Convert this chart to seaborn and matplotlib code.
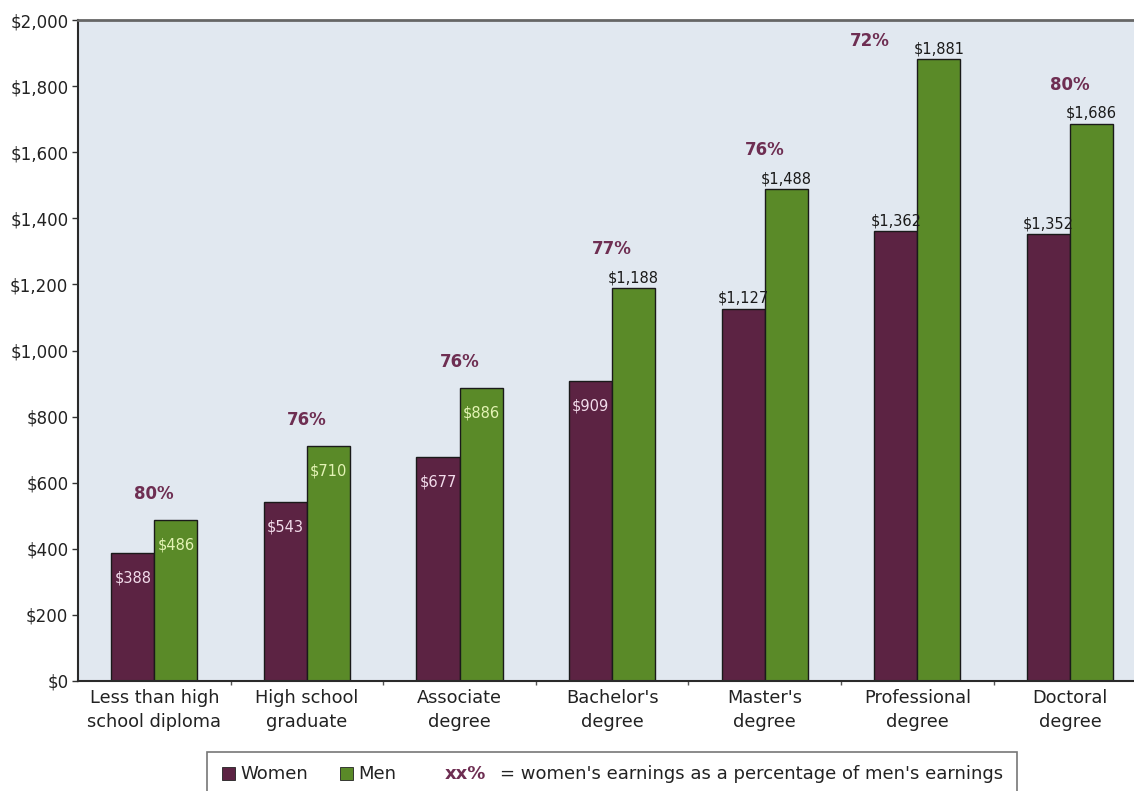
import matplotlib
matplotlib.use("Agg")
import matplotlib.pyplot as plt
import matplotlib.patches as mpatches
from matplotlib.ticker import FuncFormatter, FixedLocator
import seaborn as sns
import pandas as pd

categories = ["Less than high\nschool diploma", "High school\ngraduate", "Associate\ndegree",
              "Bachelor's\ndegree", "Master's\ndegree", "Professional\ndegree", "Doctoral\ndegree"]
women = [388, 543, 677, 909, 1127, 1362, 1352]
men = [486, 710, 886, 1188, 1488, 1881, 1686]
pct = ["80%", "76%", "76%", "77%", "76%", "72%", "80%"]
y_ticks = [0, 200, 400, 600, 800, 1000, 1200, 1400, 1600, 1800, 2000]

WOMEN_C = "#5C2343"
MEN_C = "#5A8A28"
BG = "#E1E8F0"
PCT_C = "#6E2E52"

df = pd.DataFrame({
    "edu": categories * 2,
    "earn": women + men,
    "sex": ["Women"] * len(women) + ["Men"] * len(men),
})

sns.set_theme(style="white")
plt.rcParams['font.family'] = ['DejaVu Sans']

fig = plt.figure(figsize=(11.34, 7.91), dpi=100)
ax = fig.add_axes([78 / 1134, 110 / 791, 1 - 78 / 1134, 661 / 791])
ax.set_facecolor(BG)

sns.barplot(data=df, x="edu", y="earn", hue="sex", order=categories,
            hue_order=["Women", "Men"], palette=[WOMEN_C, MEN_C],
            width=0.564, saturation=1, edgecolor="#1a1a1a", linewidth=1.0,
            legend=False, ax=ax)

ax.set_ylim(0, 2000)
ax.set_xlim(-0.5, 6.42)
ax.set_xlabel("")
ax.set_ylabel("")
ax.yaxis.set_major_locator(FixedLocator(y_ticks))
ax.yaxis.set_major_formatter(FuncFormatter(lambda v, p: f"${int(v):,}"))
ax.tick_params(axis="y", which="major", left=True, length=4, width=1, color="#333333",
               labelsize=12, labelcolor="#222222", pad=3)
ax.tick_params(axis="x", which="major", bottom=False, labelsize=12.8, labelcolor="#222222", pad=0)
for lbl in ax.get_xticklabels():
    lbl.set_linespacing(1.4)
ax.xaxis.set_minor_locator(FixedLocator([i + 0.5 for i in range(len(categories) - 1)]))
ax.tick_params(axis="x", which="minor", bottom=True, length=3, width=1, color="#555555")

for s in ["left", "bottom"]:
    ax.spines[s].set_color("#2a2a2a")
    ax.spines[s].set_linewidth(1.5)
ax.spines["top"].set_color("#666666")
ax.spines["top"].set_linewidth(2.0)
ax.spines["right"].set_visible(False)

inside_colors = [("#F2DCEB"), ("#E4F3B5")]
for ci, cont in enumerate(ax.containers[:2]):
    for p in cont.patches:
        h = p.get_height()
        x = p.get_x() + p.get_width() / 2
        lab = f"${int(round(h)):,}"
        if h < 1000:
            ax.annotate(lab, (x, h), xytext=(0, -18), textcoords="offset points",
                        ha="center", va="center", fontsize=10.5, color=inside_colors[ci])
        else:
            ax.annotate(lab, (x, h), xytext=(0, 2), textcoords="offset points",
                        ha="center", va="bottom", fontsize=10.5, color="#1a1a1a")

for i, (m, t) in enumerate(zip(men, pct)):
    if m > 1800:
        off = (-34, 13)
    elif m < 1000:
        off = (0, 19)
    else:
        off = (0, 28)
    ax.annotate(t, (i, m), xytext=off, textcoords="offset points", ha="center", va="center",
                fontsize=12, fontweight="bold", color=PCT_C)

# legend box
fig.patches.append(mpatches.Rectangle((207 / 1134, -0.01), 810 / 1134, (791 - 752) / 791 + 0.01,
                                      transform=fig.transFigure, facecolor="white",
                                      edgecolor="#777777", linewidth=1.2))
ly = (791 - 774) / 791
sq = 13
fig.patches.append(mpatches.Rectangle((222 / 1134, (791 - 780) / 791), sq / 1134, sq / 791,
                                      transform=fig.transFigure, facecolor=WOMEN_C,
                                      edgecolor="#222222", linewidth=0.6))
fig.text(240 / 1134, ly, "Women", ha="left", va="center", fontsize=13, color="#222222")
fig.patches.append(mpatches.Rectangle((340 / 1134, (791 - 780) / 791), sq / 1134, sq / 791,
                                      transform=fig.transFigure, facecolor=MEN_C,
                                      edgecolor="#222222", linewidth=0.6))
fig.text(358 / 1134, ly, "Men", ha="left", va="center", fontsize=13, color="#222222")
fig.text(445 / 1134, ly, "xx%", ha="left", va="center", fontsize=13, fontweight="bold", color=PCT_C)
fig.text(1003 / 1134, ly, "= women's earnings as a percentage of men's earnings", ha="right",
         va="center", fontsize=13, color="#222222")

fig.savefig("out.png", dpi=100)
